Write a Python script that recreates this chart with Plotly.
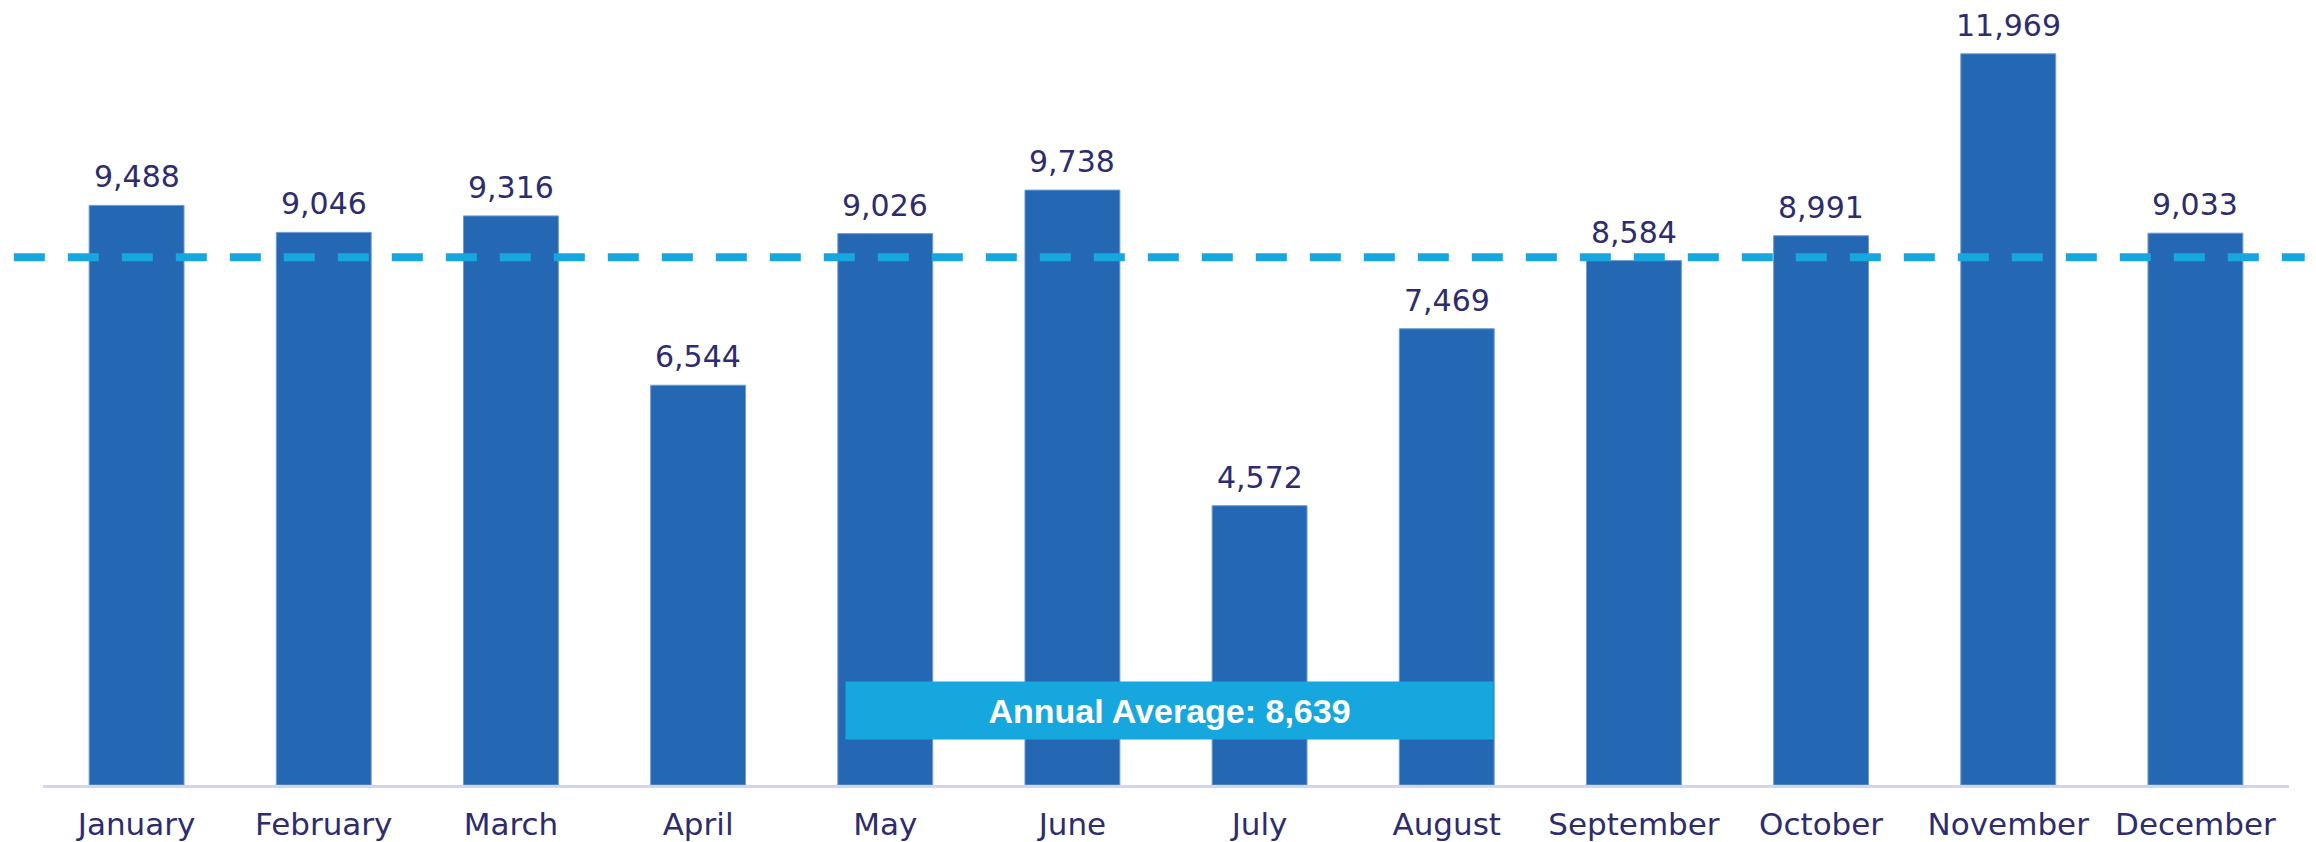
import plotly.graph_objects as go

months = ["January", "February", "March", "April", "May", "June", "July",
          "August", "September", "October", "November", "December"]
values = [9488, 9046, 9316, 6544, 9026, 9738, 4572, 7469, 8584, 8991, 11969, 9033]
annual_average = 8639

BAR = "#2468B3"
AVG = "#17A7DF"
TXT = "#2E2C6E"
FONT = "DejaVu Sans"

fig = go.Figure()
fig.add_trace(go.Bar(
    x=months, y=values,
    marker=dict(color=BAR, line=dict(color="#6E9BD3", width=1)),
    hoverinfo="skip",
))

for m, v in zip(months, values):
    fig.add_annotation(x=m, y=v, xref="x", yref="y", text=f"{v:,}",
                       showarrow=False, yanchor="bottom", yshift=9,
                       font=dict(family=FONT, size=30, color=TXT))

fig.add_shape(type="line", xref="paper", yref="y",
              x0=-0.013, x1=1.007, y0=annual_average, y1=annual_average,
              line=dict(color=AVG, width=8, dash="31px,23px"), layer="above")

fig.add_annotation(x=5.52, y=1220, xref="x", yref="y",
                   text=f"<b>Annual Average: {annual_average:,}</b>",
                   showarrow=False, width=647, height=57, borderpad=0,
                   bgcolor=AVG, font=dict(family="Liberation Sans", size=34, color="white"),
                   align="center", valign="middle")

fig.update_layout(
    width=2316, height=842,
    margin=dict(l=43, r=27, t=0, b=57),
    paper_bgcolor="white", plot_bgcolor="white",
    bargap=0.493,
    showlegend=False,
    xaxis=dict(showline=True, linecolor="#D3D3F2", linewidth=3, ticks="",
               ticklabelstandoff=10,
               tickfont=dict(family=FONT, size=31, color=TXT),
               showgrid=False, zeroline=False, fixedrange=True),
    yaxis=dict(range=[0, 12850], visible=False, showgrid=False, zeroline=False,
               fixedrange=True),
)

fig.write_html("out.html", config={"displayModeBar": False})
